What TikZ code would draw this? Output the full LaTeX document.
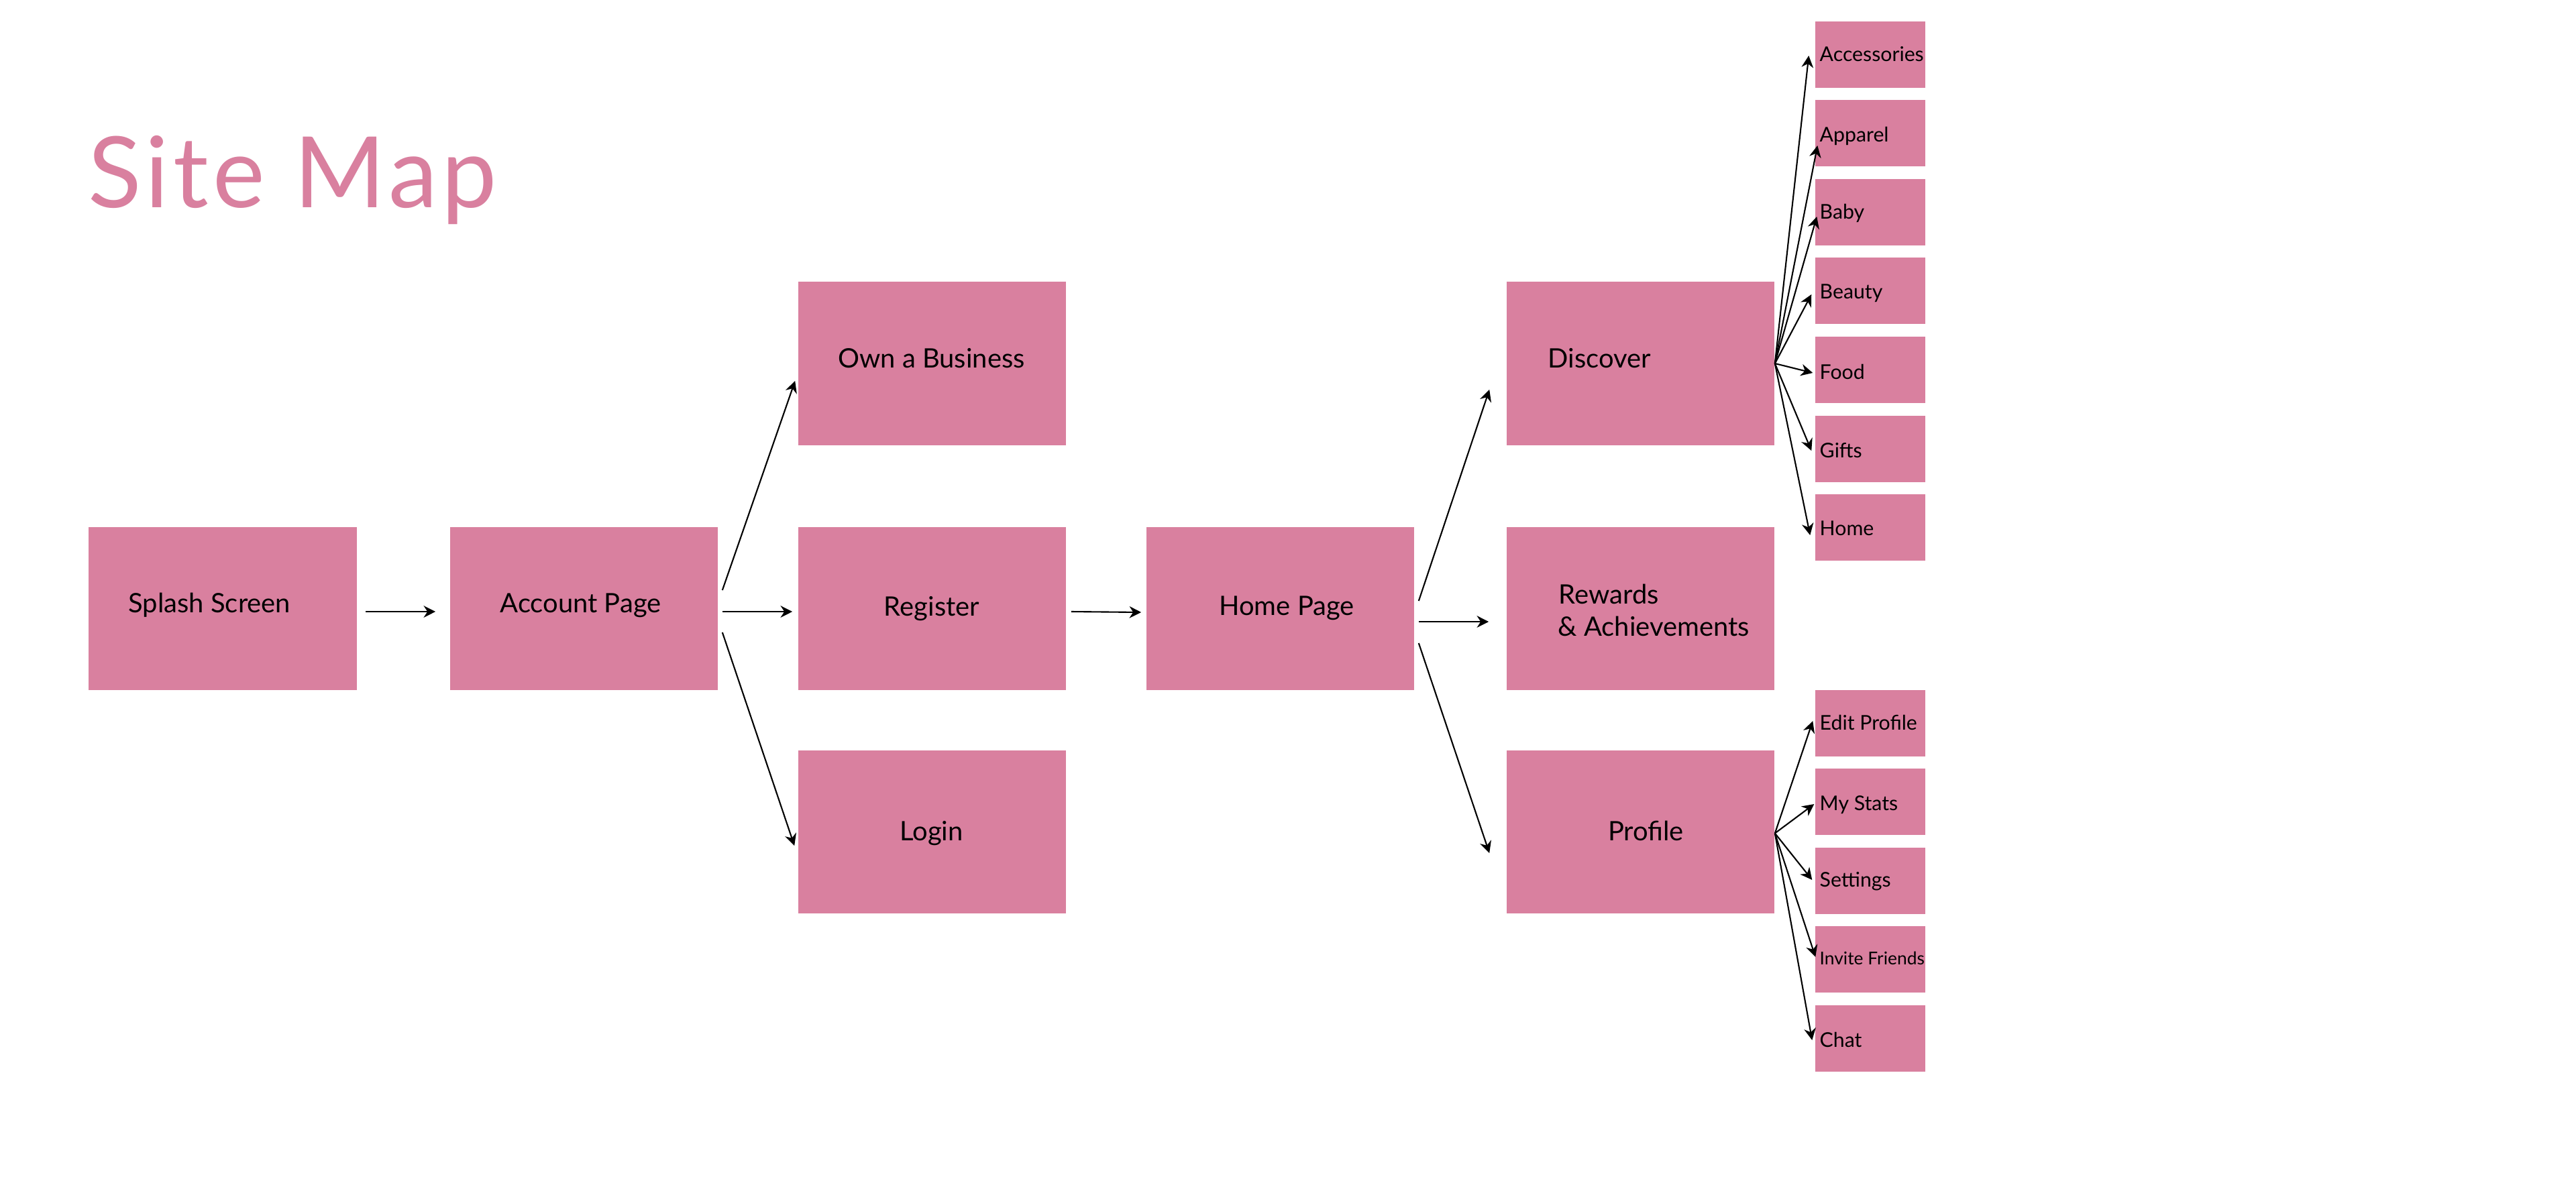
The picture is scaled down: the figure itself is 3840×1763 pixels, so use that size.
\documentclass[tikz,border=0pt]{standalone}
\usepackage{fontspec}
\setmainfont{Lato}
\usetikzlibrary{arrows.meta,calc}
\definecolor{pinkbox}{HTML}{D9809F}
\begin{document}
\begin{tikzpicture}[x=0.01cm,y=-0.01cm,
  box/.style={fill=pinkbox, draw=none, inner sep=0pt, minimum width=3.99cm, minimum height=2.43cm},
  sbox/.style={fill=pinkbox, draw=none, inner sep=0pt, minimum width=1.64cm, minimum height=0.99cm},
  lbl/.style={inner sep=0pt, anchor=base, font=\fontsize{11.35pt}{13.7pt}\selectfont},
  lbll/.style={inner sep=0pt, anchor=base west, font=\fontsize{11.35pt}{13.7pt}\selectfont},
  slbl/.style={inner sep=0pt, anchor=base west, font=\fontsize{8.6pt}{10pt}\selectfont},
  arr/.style={draw=black, line width=0.6pt, -{Stealth[length=5pt,width=5pt,inset=1.6pt]}}]
\useasboundingbox (0,0) rectangle (3840,1763);

% title
\node[inner sep=0pt, anchor=base west, text=pinkbox, font=\fontsize{41.8pt}{48pt}\selectfont\addfontfeature{LetterSpace=4.2}] (title) at (131,309) {Site Map};

% main boxes
\node[box] (splash)   at (332,907.5) {};
\node[box] (account)  at (870.5,907.5) {};
\node[box] (own)      at (1389.5,542) {};
\node[box] (register) at (1389.5,907.5) {};
\node[box] (login)    at (1389.5,1240.5) {};
\node[box] (home)     at (1908.5,907.5) {};
\node[box] (discover) at (2445.5,542) {};
\node[box] (rewards)  at (2445.5,907.5) {};
\node[box] (profile)  at (2445.5,1240.5) {};

% main labels
\node[lbll] (splashT)   at (191,913) {Splash Screen};
\node[lbl]  (accountT)  at (865.5,913) {Account Page};
\node[lbl]  (ownT)      at (1388.5,548) {Own a Business};
\node[lbl]  (registerT) at (1389,918) {Register};
\node[lbl]  (loginT)    at (1388.5,1253) {Login};
\node[lbl]  (homeT)     at (1918,917) {Home Page};
\node[lbll] (discoverT) at (2307,548) {Discover};
\node[lbll] (rewardsT1) at (2323,900) {Rewards};
\node[lbll] (rewardsT2) at (2322,948) {\& Achievements};
\node[lbl]  (profileT)  at (2453.5,1253) {Profile};

% small boxes (discover)
\node[sbox] (acc)    at (2788,81.5) {};
\node[sbox] (app)    at (2788,198.5) {};
\node[sbox] (baby)   at (2788,316.5) {};
\node[sbox] (beauty) at (2788,433.5) {};
\node[sbox] (food)   at (2788,551.5) {};
\node[sbox] (gifts)  at (2788,669.5) {};
\node[sbox] (shome)  at (2788,786.5) {};
% small boxes (profile)
\node[sbox] (edit)     at (2788,1078.5) {};
\node[sbox] (stats)    at (2788,1195.5) {};
\node[sbox] (settings) at (2788,1313.5) {};
\node[sbox] (invite)   at (2788,1430.5) {};
\node[sbox] (chat)     at (2788,1548.5) {};

% small labels
\node[slbl] (accT)    at (2712,91) {Accessories};
\node[slbl] (appT)    at (2712,211) {Apparel};
\node[slbl] (babyT)   at (2712,326) {Baby};
\node[slbl] (beautyT) at (2712,445) {Beauty};
\node[slbl] (foodT)   at (2712,565) {Food};
\node[slbl] (giftsT)  at (2712,682) {Gifts};
\node[slbl] (shomeT)  at (2712,798) {Home};
\node[slbl] (editT)     at (2712,1088) {Edit Profile};
\node[slbl] (statsT)    at (2712,1208) {My Stats};
\node[slbl] (settingsT) at (2712,1322) {Settings};
\node[slbl, font=\fontsize{7.5pt}{9pt}\selectfont] (inviteT) at (2712,1438) {Invite Friends};
\node[slbl] (chatT)     at (2712,1561) {Chat};

% main arrows
\draw[arr] ($(splash.east)+(13,4.5)$) -- ($(account.west)+(-21,4.5)$);
\draw[arr] ($(account.east)+(6,-27.5)$) -- ($(own.west)+(-4,26)$);
\draw[arr] ($(account.east)+(6,4.5)$) -- ($(register.west)+(-8,4.5)$);
\draw[arr] ($(account.east)+(6,35.5)$) -- ($(login.west)+(-5,20.5)$);
\draw[arr] ($(register.east)+(7,4.5)$) -- ($(home.west)+(-7,5.5)$);
\draw[arr] ($(home.east)+(6,-11.5)$) -- ($(discover.west)+(-25,39)$);
\draw[arr] ($(home.east)+(6,19.5)$) -- ($(rewards.west)+(-26,19.5)$);
\draw[arr] ($(home.east)+(6,51.5)$) -- ($(profile.west)+(-25,31.5)$);

% discover fan
\draw[arr] (discover.east) -- ($(acc.west)+(-9,1.5)$);
\draw[arr] (discover.east) -- ($(app.west)+(4,18.5)$);
\draw[arr] (discover.east) -- ($(baby.west)+(3,6.5)$);
\draw[arr] (discover.east) -- ($(beauty.west)+(-5,5.5)$);
\draw[arr] (discover.east) -- ($(food.west)+(-3,4.5)$);
\draw[arr] (discover.east) -- ($(gifts.west)+(-5,2.5)$);
\draw[arr] (discover.east) -- ($(shome.west)+(-7,11.5)$);

% profile fan
\draw[arr] ($(profile.east)+(0,2)$) -- ($(edit.west)+(-3,-3.5)$);
\draw[arr] ($(profile.east)+(0,2)$) -- ($(stats.west)+(-1,3.5)$);
\draw[arr] ($(profile.east)+(0,2)$) -- ($(settings.west)+(-4,-1.5)$);
\draw[arr] ($(profile.east)+(0,2)$) -- ($(invite.west)+(1,-3.5)$);
\draw[arr] ($(profile.east)+(0,2)$) -- ($(chat.west)+(-4,2.5)$);
\end{tikzpicture}
\end{document}
